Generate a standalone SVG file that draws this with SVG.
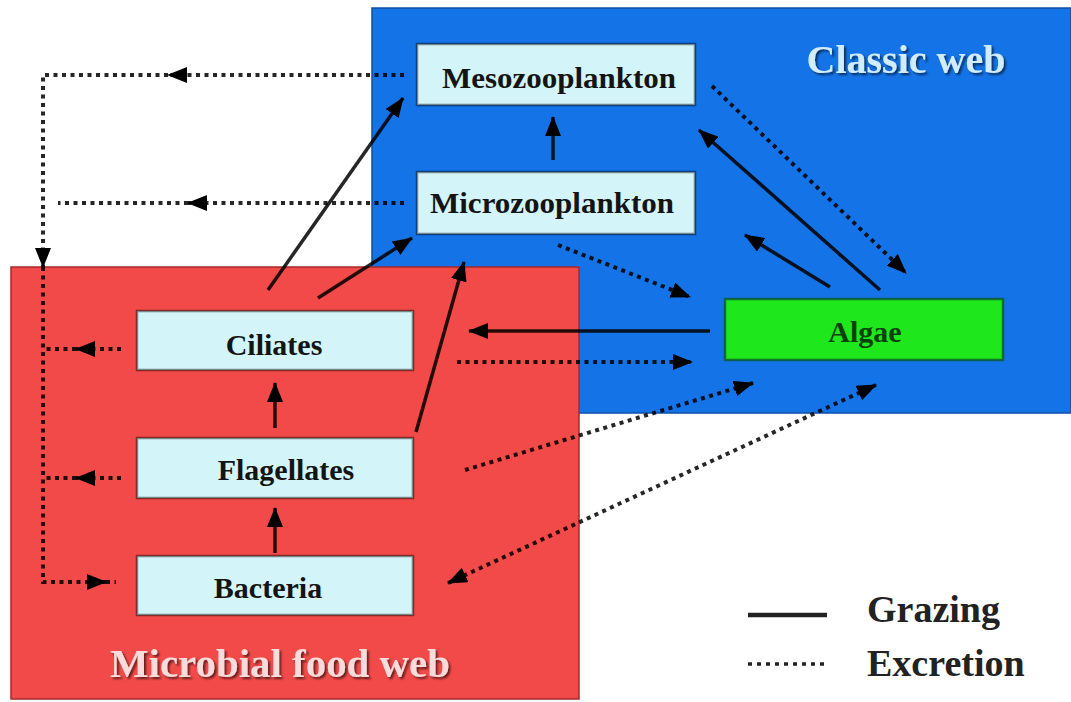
<svg xmlns="http://www.w3.org/2000/svg" width="1071" height="702" viewBox="0 0 1071 702">
<style>
.box{fill:#d3f4f8;stroke:#000;stroke-opacity:0.45;stroke-width:2.5}
.lbl{font-family:"Liberation Serif","Times New Roman",serif;font-weight:bold;font-size:30px;fill:#141414;text-anchor:middle}
.title{font-family:"Liberation Serif","Times New Roman",serif;font-weight:bold;font-size:40px;text-anchor:middle}
.leg{font-family:"Liberation Serif","Times New Roman",serif;font-weight:bold;font-size:38px;fill:#222}
.g{fill:none;stroke:#000;stroke-opacity:0.85;stroke-width:3.5}
.e{fill:none;stroke:#000;stroke-opacity:0.85;stroke-width:4;stroke-dasharray:4 4.5}
.ga{marker-end:url(#ah)}
</style>
<defs>
<marker id="ah" viewBox="0 0 20 16" markerWidth="20" markerHeight="16" refX="19" refY="8" orient="auto-start-reverse" markerUnits="userSpaceOnUse">
<path d="M0,0 L20,8 L0,16 z" fill="#000"/>
</marker>
<filter id="sh" x="-10%" y="-30%" width="120%" height="160%">
<feDropShadow dx="2" dy="2" stdDeviation="1.2" flood-color="#000" flood-opacity="0.6"/>
</filter>
</defs>
<rect width="1071" height="702" fill="#ffffff"/>

<g id="classic-web">
<rect x="372" y="8" width="699" height="405" fill="#1473e6" stroke="#0d4fa8" stroke-width="1.5"/>
<text class="title" x="906" y="73" fill="#d2ecff" filter="url(#sh)">Classic web</text>
</g>

<g id="microbial-food-web">
<rect x="11" y="267" width="568" height="432" fill="#f24a48" stroke="#a52a2a" stroke-width="1.5"/>
<text class="title" x="280" y="677" fill="#f8dcdc" filter="url(#sh)" textLength="340" lengthAdjust="spacingAndGlyphs">Microbial food web</text>
</g>

<g id="mesozooplankton">
<rect class="box" x="417" y="44" width="278" height="61"/>
<text class="lbl" x="559" y="88" textLength="234" lengthAdjust="spacingAndGlyphs">Mesozooplankton</text>
</g>
<g id="microzooplankton">
<rect class="box" x="417" y="172" width="278" height="62"/>
<text class="lbl" x="552" y="213" textLength="244" lengthAdjust="spacingAndGlyphs">Microzooplankton</text>
</g>
<g id="algae">
<rect x="725" y="299" width="278" height="61" fill="#1ee81c" stroke="#0a5a2a" stroke-opacity="0.8" stroke-width="2.5"/>
<text class="lbl" x="865" y="342" style="fill:#0b400b">Algae</text>
</g>
<g id="ciliates">
<rect class="box" x="137" y="311" width="276" height="59"/>
<text class="lbl" x="274" y="355">Ciliates</text>
</g>
<g id="flagellates">
<rect class="box" x="137" y="438" width="276" height="60"/>
<text class="lbl" x="286" y="480">Flagellates</text>
</g>
<g id="bacteria">
<rect class="box" x="137" y="556" width="276" height="59"/>
<text class="lbl" x="268" y="598">Bacteria</text>
</g>

<g id="connectors">
<!-- grazing -->
<path class="g ga" d="M268,290 L403,98"/>
<path class="g ga" d="M318,298 L412,238"/>
<path class="g ga" d="M416,432 L464,262"/>
<path class="g ga" d="M275,428 L275,383"/>
<path class="g ga" d="M275,553 L275,508"/>
<path class="g ga" d="M553,160 L553,117"/>
<path class="g ga" d="M830,287 L745,235"/>
<path class="g ga" d="M880,290 L699,130"/>
<path class="g ga" d="M710,331 L469,331"/>
<!-- excretion -->
<path class="e ga" d="M712,86 L906,273"/>
<path class="e ga" d="M558,245 L690,297"/>
<path class="e ga" d="M457,362 L692,362"/>
<path class="e ga" d="M465,470 L753,383"/>
<path class="e" d="M448,583 L876,385" marker-start="url(#ah)" marker-end="url(#ah)"/>
<path class="e ga" d="M404,75 L168,75"/>
<path class="e ga" d="M168,75 L43,75 L43,267"/>
<path class="e ga" d="M43,267 L43,582 L106,582"/>
<path class="e" d="M106,582 L116,582"/>
<path class="e ga" d="M404,203 L188,203"/>
<path class="e" d="M188,203 L58,203"/>
<path class="e ga" d="M121,349 L76,349"/>
<path class="e" d="M76,349 L46,349"/>
<path class="e ga" d="M121,478 L76,478"/>
<path class="e" d="M76,478 L46,478"/>
</g>

<g id="legend">
<path d="M748,615 L827,615" fill="none" stroke="#222" stroke-width="4.5"/>
<path d="M748,664 L826,664" fill="none" stroke="#222" stroke-width="3.5" stroke-dasharray="4 5"/>
<text class="leg" x="867" y="622">Grazing</text>
<text class="leg" x="867" y="676">Excretion</text>
</g>
</svg>
